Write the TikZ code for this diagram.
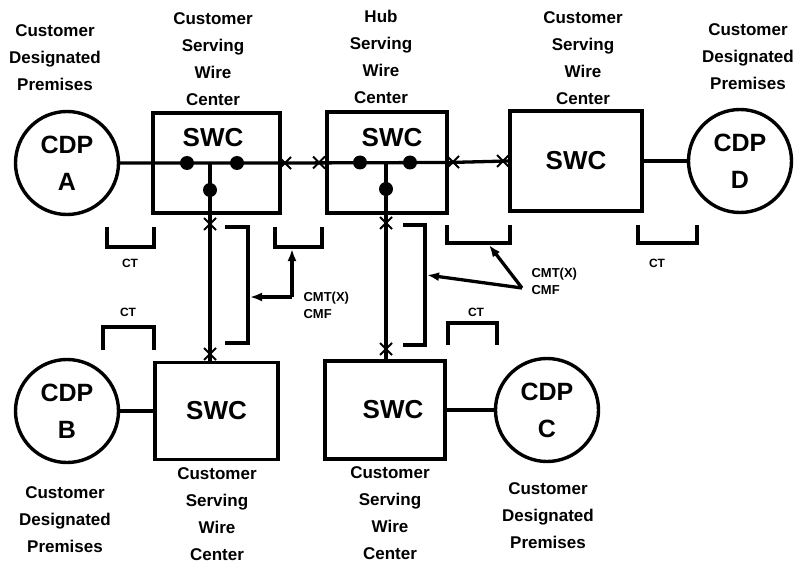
\documentclass[tikz,border=0pt]{standalone}
\usepackage{fontspec}
\setmainfont{Liberation Sans}
\usetikzlibrary{shapes.misc,arrows.meta}
\tikzset{
  swcbox/.style={draw,line width=3.4pt,inner sep=0pt,font=\fontsize{26}{30}\selectfont\bfseries},
  cdp/.style={draw,circle,line width=3.4pt,minimum size=103pt,inner sep=0pt,align=center,font=\fontsize{25}{37}\selectfont\bfseries},
  wire/.style={line width=3.3pt},
  jdot/.style={circle,fill,minimum size=14pt,inner sep=0pt},
  xmark/.style={cross out,draw,minimum size=10pt,inner sep=0pt,line width=2pt},
  caption/.style={align=center,font=\fontsize{17}{27}\selectfont\bfseries},
  cttag/.style={font=\fontsize{12}{14}\selectfont\bfseries},
  cmttag/.style={align=left,anchor=west,font=\fontsize{13}{17}\selectfont\bfseries},
  ptr/.style={draw,line width=3.3pt,-{Latex[length=12pt,width=9pt]}},
}
\begin{document}
\begin{tikzpicture}[x=1pt,y=-1pt]
\useasboundingbox (0,0) rectangle (798,567);

\node[caption] (capA) at (55,58) {Customer\\Designated\\Premises};
\node[caption] (capSwcA) at (213,59) {Customer\\Serving\\Wire\\Center};
\node[caption] (capHub) at (381,57) {Hub\\Serving\\Wire\\Center};
\node[caption] (capSwcD) at (583,58) {Customer\\Serving\\Wire\\Center};
\node[caption] (capD) at (748,57) {Customer\\Designated\\Premises};
\node[caption] (capB) at (65,520) {Customer\\Designated\\Premises};
\node[caption] (capSwcB) at (217,514) {Customer\\Serving\\Wire\\Center};
\node[caption] (capSwcC) at (390,513) {Customer\\Serving\\Wire\\Center};
\node[caption] (capC) at (548,516) {Customer\\Designated\\Premises};

\node[cdp] (cdpA) at (67,163) {CDP\\A};
\node[cdp] (cdpD) at (740,161) {CDP\\D};
\node[cdp] (cdpB) at (67,411) {CDP\\B};
\node[cdp] (cdpC) at (547,410) {CDP\\C};

\node[swcbox,minimum width=127pt,minimum height=100pt] (swcA) at (216.5,163) {};
\node[swcbox,minimum width=120pt,minimum height=101pt] (hub) at (387,162.5) {};
\node[swcbox,minimum width=132pt,minimum height=100pt] (swcD) at (576,161) {SWC};
\node[swcbox,minimum width=123pt,minimum height=97pt] (swcB) at (216.5,411) {SWC};
\node[swcbox,minimum width=120pt,minimum height=98pt] (swcC) at (385,410) {\hspace{16pt}SWC};
\node[font=\fontsize{26}{30}\selectfont\bfseries] (swcAtxt) at (213,138) {SWC};
\node[font=\fontsize{26}{30}\selectfont\bfseries] (hubtxt) at (392,138) {SWC};

\coordinate (jA) at (210,163);
\coordinate (jH) at (386,162.5);

\draw[wire] (cdpA) -- (swcA.east) -- (hub.east) -- (swcD.west);
\draw[wire] (swcD) -- (cdpD);
\draw[wire] (cdpB) -- (swcB.west);
\draw[wire] (swcC.east) -- (cdpC);
\draw[wire] (jA) -- (jA |- swcB.north);
\draw[wire] (jH) -- (jH |- swcC.north);

\node[jdot] (dA1) at (187,163) {};
\node[jdot] (dA2) at (237,163) {};
\node[jdot] (dA3) at (210,190) {};
\node[jdot] (dH1) at (360,162.5) {};
\node[jdot] (dH2) at (410,162.5) {};
\node[jdot] (dH3) at (386,189) {};

\node[xmark] (x1) at (285,163) {};
\node[xmark] (x2) at (319,162.5) {};
\node[xmark] (x3) at (453,162) {};
\node[xmark] (x4) at (503,161) {};
\node[xmark] (x5) at (210,224) {};
\node[xmark] (x6) at (210,354) {};
\node[xmark] (x7) at (386,223) {};
\node[xmark] (x8) at (386,349) {};

\draw[wire] (107,227) -- (107,247) -- (154,247) -- (154,227);
\draw[wire] (275,227) -- (275,247) -- (322,247) -- (322,227);
\draw[wire] (447,225) -- (447,243) -- (510,243) -- (510,225);
\draw[wire] (638,225) -- (638,243) -- (697,243) -- (697,225);
\draw[wire] (103,350) -- (103,327) -- (154,327) -- (154,350);
\draw[wire] (448,345) -- (448,323) -- (497,323) -- (497,345);
\draw[wire] (225,227) -- (248,227) -- (248,343) -- (225,343);
\draw[wire] (403,225) -- (425,225) -- (425,345) -- (403,345);

\node[cttag] (ctA) at (130,263) {CT};
\node[cttag] (ctD) at (657,263) {CT};
\node[cttag] (ctB) at (128,312) {CT};
\node[cttag] (ctC) at (476,312) {CT};

\node[cmttag] (cmtL) at (300,305) {CMT(X)\\CMF};
\node[cmttag] (cmtR) at (528,281) {CMT(X)\\CMF};

\coordinate (kL) at (292,297);
\coordinate (kR) at (522,288);
\coordinate (sbA) at (250,297);
\coordinate (cbA) at (292,249);
\coordinate (sbH) at (427,275);
\coordinate (cbH) at (489,245);
\draw[ptr] (kL) -- (sbA);
\draw[ptr] (kL) -- (cbA);
\draw[ptr] (kR) -- (sbH);
\draw[ptr] (kR) -- (cbH);
\end{tikzpicture}
\end{document}
